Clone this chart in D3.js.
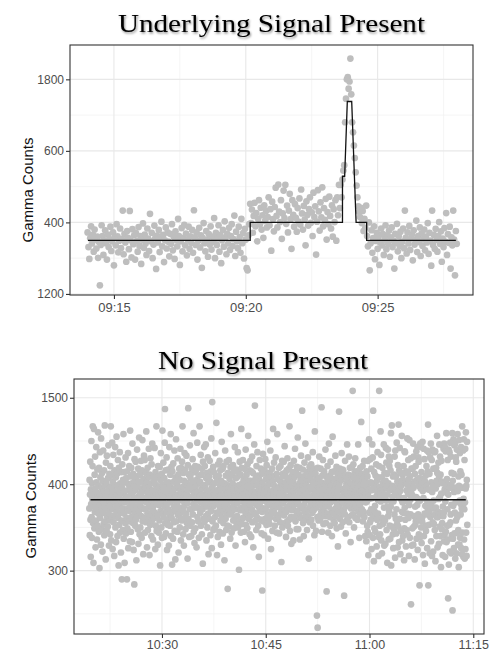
<!DOCTYPE html>
<html>
<head>
<meta charset="utf-8">
<script src="https://cdn.jsdelivr.net/npm/d3@7"></script>
<style>
  body { margin: 0; background: #fff; }
  svg { display: block; }
</style>
</head>
<body>
<div id="container"></div>
<script>
// ---- top panel data ----
const topTitle = "Underlying Signal Present";
const topStart = "09:14:00";
const topStepSec = 2;
const topCounts = [
  372,331,298,356,389,341,365,318,380,352,327,360,301,345,224,337,392,362,309,350,
  378,342,296,366,331,353,388,320,347,372,280,359,336,395,361,316,349,383,328,354,
  433,311,368,344,290,376,357,325,432,350,302,381,339,364,296,370,348,318,387,335,
  362,284,352,397,329,366,341,309,383,355,320,424,347,371,300,338,391,356,270,363,
  344,379,317,358,402,333,365,289,350,386,327,372,346,305,368,340,395,322,360,298,
  375,351,333,410,362,281,347,384,319,357,393,336,369,308,352,388,326,361,343,379,
  315,434,358,337,372,296,349,385,330,364,273,356,398,342,319,376,351,304,367,338,
  389,324,360,346,412,300,371,337,355,392,318,365,286,350,379,332,403,358,311,368,
  341,385,323,362,395,334,353,419,306,374,347,328,388,359,315,410,342,370,299,382,
  352,272,266,364,395,
  452,398,436,371,418,455,389,426,347,410,462,395,441,380,420,357,448,404,432,386,
  415,470,392,437,321,458,409,375,443,497,418,386,506,430,401,462,354,425,489,412,
  505,396,447,372,433,480,409,326,462,421,388,451,413,374,440,402,467,394,492,425,
  380,446,408,336,459,421,391,437,470,399,428,362,483,415,445,310,402,490,431,377,
  456,414,498,389,440,407,466,352,429,395,472,418,383,448,360,437,401,462,349,470,
  420,505,440,
  505,470,520,545,560,680,746,800,806,774,794,858,758,680,652,615,580,540,503,470,445,430,415,
  441,398,432,376,410,385,447,
  362,333,400,266,342,378,315,356,389,297,348,371,326,360,281,344,383,336,367,309,
  352,392,325,364,340,377,304,358,386,331,349,271,368,343,396,319,361,335,374,300,
  346,383,328,433,357,313,372,341,390,323,355,366,294,378,338,352,405,317,362,345,
  386,306,369,335,353,380,322,360,344,398,312,371,349,279,433,337,365,326,382,351,
  318,362,401,340,375,290,355,331,384,346,426,309,367,343,388,271,358,336,433,352,
  252,376,340
];
const topLineTimes = ["09:14:01","09:20:10","09:20:10","09:23:40","09:23:40","09:23:45",
  "09:23:51","09:24:01","09:24:09","09:24:11","09:24:35","09:24:35","09:27:58"];
const topLineValues = [350,350,400,400,529,529,738,738,467,400,400,350,350];
const topXDomain = ["09:13:20","09:28:37"];
const topYDomain = [197, 896];
const topXTicks = ["09:15:00","09:20:00","09:25:00"];
const topXMinor = ["09:17:30","09:22:30","09:27:30"];
const topYTicks = [200,400,600,800];
const topYLabels = ["1200","400","600","1800"];
const topYMinor = [300,500,700];

// ---- bottom panel data ----
const botTitle = "No Signal Present";
const botStart = "10:19:30";
const botStepSec = 2;
const botCounts = [
  372,405,341,388,426,359,316,394,377,450,362,338,401,383,421,467,355,392,309,374,
  464,386,349,411,368,432,395,327,379,358,443,402,371,336,390,417,352,384,460,366,
  398,345,419,376,303,389,437,361,408,382,330,453,370,396,348,413,385,322,404,367,
  439,380,354,392,416,341,374,468,399,357,386,313,425,378,401,346,433,363,390,372,
  351,407,384,445,366,329,394,412,358,380,342,421,375,467,397,335,386,410,361,448,
  389,325,403,371,434,356,392,381,317,416,364,399,443,350,378,408,333,387,455,369,
  412,374,340,398,428,361,385,306,419,392,353,376,437,344,401,367,389,321,414,380,
  358,290,396,423,372,347,405,382,458,337,391,366,414,309,379,402,355,431,386,343,
  407,361,384,290,415,349,393,372,436,326,400,381,357,421,369,394,334,462,376,409,
  345,388,419,362,401,333,378,447,390,355,412,371,324,398,384,284,429,366,405,352,
  393,426,359,381,312,409,374,440,364,397,348,385,418,331,402,369,454,387,342,411,
  376,350,403,389,427,363,395,338,416,380,451,357,392,372,319,406,384,433,361,399,
  428,371,344,397,383,413,356,461,379,402,327,390,366,419,347,385,408,373,441,359,
  396,318,411,376,353,430,387,364,401,340,423,381,358,447,393,370,336,409,388,375,
  361,404,382,442,367,391,325,414,352,399,385,467,346,378,410,363,394,330,421,387,
  409,344,376,397,358,420,383,306,405,369,436,391,350,377,412,338,399,462,366,384,
  381,425,362,393,339,407,374,448,487,355,389,416,343,401,368,431,377,324,396,359,
  353,390,417,371,402,329,384,443,365,398,352,411,379,458,340,393,420,361,387,307,
  415,368,391,337,424,382,356,403,374,439,346,395,369,313,408,386,452,357,399,378,
  377,402,345,430,388,364,411,321,396,373,418,383,350,405,367,441,392,335,419,360,
  392,358,426,381,467,370,397,342,413,386,329,404,375,436,361,390,417,348,383,401,
  366,433,389,355,401,378,314,422,394,488,360,386,411,339,398,371,445,384,352,407,
  412,384,340,399,371,418,356,393,429,365,402,377,459,345,388,414,332,396,373,421,
  349,397,416,374,386,327,405,381,448,362,391,420,357,383,410,338,372,401,467,386,
  403,367,392,434,352,379,411,388,342,418,396,371,308,426,384,360,399,375,443,356,
  387,421,359,396,381,446,363,407,335,392,374,413,350,388,431,366,402,319,384,409,
  360,392,427,378,403,341,386,415,369,453,395,326,382,495,357,399,374,420,347,391,
  414,376,349,401,388,362,436,380,409,352,393,471,367,384,318,405,391,339,423,378,
  382,410,366,391,345,427,373,398,416,358,387,330,404,379,449,362,395,371,418,343,
  397,355,421,383,369,401,312,388,374,439,393,360,410,347,384,426,366,399,378,352,
  279,389,413,370,396,428,351,384,406,365,392,337,420,381,458,373,398,344,411,386,
  369,401,384,422,358,394,376,349,415,387,362,443,371,398,329,407,383,417,355,392,
  408,363,396,378,437,350,389,414,371,301,399,385,426,357,392,370,411,344,387,464,
  386,419,354,401,373,392,428,361,380,406,345,397,374,418,389,333,403,367,440,379,
  353,392,411,366,385,349,423,397,372,456,388,360,404,381,416,342,395,376,427,364,
  404,377,339,415,390,371,432,356,398,384,413,327,389,402,367,446,379,391,491,358,
  391,365,408,383,347,421,376,399,361,437,385,410,352,393,374,316,406,388,369,428,
  374,403,387,359,418,380,395,343,412,368,277,401,384,435,357,390,413,372,341,397,
  416,382,360,429,394,371,406,386,353,422,379,397,449,365,388,337,411,376,402,360,
  387,354,413,377,400,439,362,391,325,408,383,369,418,392,346,403,375,464,389,371,
  399,425,367,384,352,410,393,378,431,360,396,385,344,412,374,458,391,364,406,382,
  362,396,419,343,387,373,404,356,389,421,378,398,367,310,401,383,427,350,395,412,
  409,378,391,426,364,399,381,444,371,355,413,386,402,339,394,368,416,383,357,430,
  383,352,407,374,398,418,359,385,467,392,346,403,378,422,362,396,331,409,387,370,
  371,414,388,361,403,335,392,427,376,408,385,362,441,398,357,381,414,369,395,348,
  420,386,369,396,454,378,348,411,392,383,365,401,419,336,389,374,406,361,433,384,
  390,361,404,485,372,398,417,355,386,409,340,394,377,425,368,399,383,447,359,402,
  365,398,382,414,347,389,406,371,431,362,393,386,314,408,381,420,356,397,374,415,
  405,376,423,359,394,380,411,367,398,437,352,387,402,370,418,384,341,393,461,377,
  378,412,391,346,405,373,387,248,400,362,234,419,383,396,358,407,376,432,389,363,
  396,359,376,418,383,402,368,489,391,345,410,387,372,428,395,354,401,381,415,368,
  411,384,399,363,440,377,355,396,385,276,408,392,366,421,379,403,344,389,374,447,
  384,401,362,393,410,352,426,379,398,367,387,414,340,395,381,455,370,406,391,359,
  367,393,415,381,355,404,389,433,372,398,363,386,420,349,401,377,412,392,328,409,
  398,369,386,484,401,375,418,360,393,412,384,351,405,379,436,366,394,381,417,356,
  380,416,394,370,389,271,408,383,365,427,396,374,343,410,387,401,358,392,446,378,
  406,388,362,411,379,398,432,356,392,375,419,384,401,333,395,372,409,381,364,420,
  391,375,508,395,365,423,384,407,350,388,413,372,397,430,361,385,402,378,415,393,
  373,410,387,359,401,382,446,368,394,413,377,338,406,391,375,419,365,398,384,472,
  412,392,371,405,386,421,357,399,380,368,408,393,427,362,385,404,340,388,411,379,
  386,334,415,380,397,352,409,345,427,390,318,401,383,452,367,394,341,356,429,384,
  402,359,371,418,325,393,384,446,370,431,338,485,363,396,311,414,349,401,368,375,
  345,410,396,362,423,386,328,404,359,391,437,382,366,408,317,339,421,508,384,352,
  397,342,389,461,380,434,335,393,408,320,361,419,390,354,402,356,387,446,373,329,
  413,386,358,399,331,404,442,381,425,347,395,412,309,388,374,440,363,401,336,432,
  369,421,352,427,393,337,416,374,459,306,380,395,468,351,398,385,342,409,326,380,
  394,348,411,365,432,388,315,439,396,360,409,343,371,448,390,354,403,327,422,386,
  351,469,397,333,416,385,442,360,392,319,413,398,346,404,382,456,368,335,379,411,
  405,340,367,421,384,312,349,438,373,437,359,402,381,328,415,393,347,400,366,453,
  342,413,389,428,361,406,317,376,451,394,338,409,382,365,430,261,393,418,329,388,
  400,349,418,386,447,330,396,432,351,363,403,313,412,374,353,421,357,385,438,337,
  359,405,376,443,324,383,365,431,426,342,398,358,283,407,381,447,339,395,443,350,
  414,332,400,357,362,449,392,318,406,384,441,340,397,429,366,308,403,375,352,410,
  346,398,421,365,439,326,380,415,371,469,283,394,437,353,368,412,320,378,431,362,
  393,447,334,402,375,428,317,391,440,356,399,322,418,381,354,372,438,437,347,365,
  438,311,395,373,419,340,404,362,456,413,327,400,362,368,425,383,331,409,446,351,
  385,432,340,411,366,304,389,427,348,403,355,445,318,374,401,363,441,367,334,447,
  341,394,443,316,380,438,345,399,459,333,390,406,352,371,428,336,268,388,440,307,
  399,353,437,322,396,448,356,365,432,320,376,413,341,397,459,254,404,337,375,452,
  412,326,391,445,343,367,447,314,379,431,358,426,320,396,440,344,362,458,392,330,
  347,409,304,398,451,330,381,436,338,415,365,377,443,326,411,372,319,467,344,396,
  375,439,316,383,452,336,371,428,314,379,441,325,395,460,344,398,317,405,449,353
];
const botLineTimes = ["10:19:40","11:13:55"];
const botLineValues = [382,382];
const botXDomain = ["10:17:17","11:16:33"];
const botYDomain = [226.7, 521.7];
const botXTicks = ["10:30:00","10:45:00","11:00:00","11:15:00"];
const botXMinor = ["10:22:30","10:37:30","10:52:30","11:07:30"];
const botYTicks = [300,400,500];
const botYLabels = ["300","400","1500"];
const botYMinor = [250,350,450];

const width = 497, height = 653;
const parse = d3.timeParse("%H:%M:%S");

const svg = d3.select("#container").append("svg")
  .attr("width", width).attr("height", height);

svg.append("defs").append("filter")
  .attr("id", "shadow")
  .attr("x", "-10%").attr("y", "-30%").attr("width", "120%").attr("height", "160%")
  .append("feDropShadow")
  .attr("dx", 1).attr("dy", 1.5).attr("stdDeviation", 1)
  .attr("flood-color", "#000").attr("flood-opacity", 0.45);

function drawPanel(p) {
  const x = d3.scaleTime().domain(p.xDomain.map(parse)).range([p.left, p.right]);
  const y = d3.scaleLinear().domain(p.yDomain).range([p.bottom, p.top]);
  const g = svg.append("g");

  // grid
  g.selectAll(".vminor").data(p.xMinor.map(parse)).join("line")
    .attr("x1", d => x(d)).attr("x2", d => x(d))
    .attr("y1", p.top).attr("y2", p.bottom)
    .attr("stroke", "#f0f0f0").attr("stroke-width", 0.7);
  g.selectAll(".hminor").data(p.yMinor).join("line")
    .attr("y1", d => y(d)).attr("y2", d => y(d))
    .attr("x1", p.left).attr("x2", p.right)
    .attr("stroke", "#f0f0f0").attr("stroke-width", 0.7);
  g.selectAll(".vmajor").data(p.xTicks.map(parse)).join("line")
    .attr("x1", d => x(d)).attr("x2", d => x(d))
    .attr("y1", p.top).attr("y2", p.bottom)
    .attr("stroke", "#e8e8e8").attr("stroke-width", 1.1);
  g.selectAll(".hmajor").data(p.yTicks).join("line")
    .attr("y1", d => y(d)).attr("y2", d => y(d))
    .attr("x1", p.left).attr("x2", p.right)
    .attr("stroke", "#e8e8e8").attr("stroke-width", 1.1);

  // points
  const t0 = parse(p.start);
  g.append("g").attr("fill", "#bebebe")
    .selectAll("circle").data(p.counts).join("circle")
    .attr("cx", (d, i) => x(new Date(+t0 + i * p.step * 1000)))
    .attr("cy", d => y(d))
    .attr("r", 3.35);

  // fitted line
  const pts = p.lineTimes.map((t, i) => [parse(t), p.lineValues[i]]);
  g.append("path").datum(pts)
    .attr("fill", "none").attr("stroke", "#111").attr("stroke-width", 1.3)
    .attr("d", d3.line().x(d => x(d[0])).y(d => y(d[1])));

  // border
  g.append("rect")
    .attr("x", p.left).attr("y", p.top)
    .attr("width", p.right - p.left).attr("height", p.bottom - p.top)
    .attr("fill", "none").attr("stroke", "#333").attr("stroke-width", 1.1);

  // axes
  const ya = g.append("g").attr("transform", `translate(${p.left},0)`)
    .call(d3.axisLeft(y).tickValues(p.yTicks).tickFormat((d, i) => p.yLabels[i]).tickSize(4).tickPadding(2));
  const xa = g.append("g").attr("transform", `translate(0,${p.bottom})`)
    .call(d3.axisBottom(x).tickValues(p.xTicks.map(parse)).tickFormat(d3.timeFormat("%H:%M")).tickSize(4).tickPadding(p.xPad));
  [ya, xa].forEach(a => {
    a.select(".domain").remove();
    a.selectAll(".tick line").attr("stroke", "#333").attr("stroke-width", 1.1);
    a.selectAll(".tick text").attr("fill", "#4d4d4d").style("font-family", "'Liberation Sans', Arial, sans-serif");
  });
  ya.selectAll(".tick text").style("font-size", "12px");
  xa.selectAll(".tick text").style("font-size", p.xFont);

  // y label
  svg.append("text")
    .attr("transform", `translate(${p.ylabX},${p.ylabY}) rotate(-90)`)
    .attr("text-anchor", "middle")
    .style("font-family", "'Liberation Sans', Arial, sans-serif")
    .style("font-size", "15px").attr("fill", "#111")
    .text("Gamma Counts");

  // title
  svg.append("text")
    .attr("x", p.titleX).attr("y", p.titleY)
    .attr("text-anchor", "middle")
    .attr("textLength", p.titleW).attr("lengthAdjust", "spacingAndGlyphs")
    .attr("filter", "url(#shadow)")
    .style("font-family", "'Liberation Serif', 'Times New Roman', serif")
    .style("font-size", "26px").attr("fill", "#000")
    .text(p.title);
}

drawPanel({
  title: topTitle, titleX: 271.5, titleY: 32, titleW: 307,
  left: 70, right: 473, top: 45, bottom: 295,
  xDomain: topXDomain, yDomain: topYDomain,
  xTicks: topXTicks, xMinor: topXMinor, yTicks: topYTicks, yLabels: topYLabels, yMinor: topYMinor,
  start: topStart, step: topStepSec, counts: topCounts,
  lineTimes: topLineTimes, lineValues: topLineValues,
  ylabX: 33, ylabY: 190, xPad: 4, xFont: "13px"
});

drawPanel({
  title: botTitle, titleX: 263, titleY: 369, titleW: 210,
  left: 74, right: 484, top: 379, bottom: 634,
  xDomain: botXDomain, yDomain: botYDomain,
  xTicks: botXTicks, xMinor: botXMinor, yTicks: botYTicks, yLabels: botYLabels, yMinor: botYMinor,
  start: botStart, step: botStepSec, counts: botCounts,
  lineTimes: botLineTimes, lineValues: botLineValues,
  ylabX: 36, ylabY: 506, xPad: 2.5, xFont: "12.5px"
});
</script>
</body>
</html>
